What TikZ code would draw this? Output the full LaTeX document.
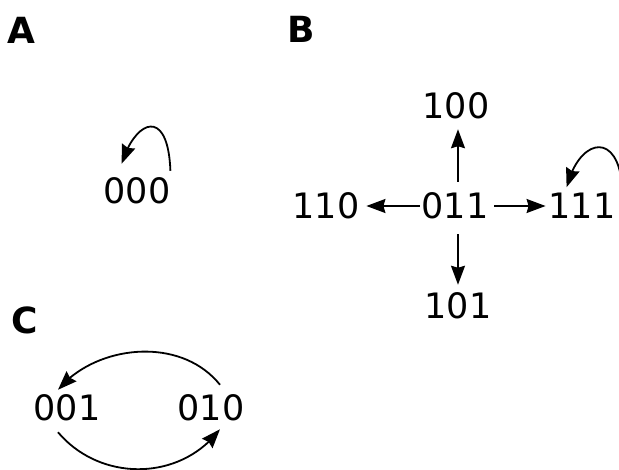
\documentclass[tikz,border=0pt]{standalone}
\usepackage{fontspec}
\setmainfont{DejaVu Sans}
\usetikzlibrary{arrows.meta,bending}
\begin{document}
\begin{tikzpicture}[x=1pt,y=-1pt,
  state/.style={inner sep=0pt,outer sep=0pt,font=\fontsize{35}{40}\selectfont},
  panel/.style={inner sep=0pt,font=\fontsize{36}{40}\selectfont\bfseries},
  conn/.style={line width=1.8pt,-{Stealth[length=19pt,width=14pt,inset=2pt]}}]
\useasboundingbox (0,0) rectangle (619,470);
% panel labels
\node[panel] (la) at (21,30) {A};
\node[panel] (lb) at (301,29) {B};
\node[panel] (lc) at (25,320) {C};
% A
\node[state] (s000) at (137,191) {000};
\draw[conn] ([shift={(0,-7)}]s000.north east) .. controls (168,106) and (135,120) .. ([shift={(18,-14)}]s000.north west);
% B
\node[state] (s011) at (455,206) {011};
\node[state] (s100) at (456,106) {100};
\node[state] (s110) at (326,206) {110};
\node[state] (s111) at (582,206) {111};
\node[state] (s101) at (458,306) {101};
\draw[conn,shorten <=11pt,shorten >=10pt] ([xshift=3pt]s011.north) -- ([xshift=2pt]s100.south);
\draw[conn,shorten <=15pt,shorten >=8pt] ([xshift=3pt]s011.south) -- (s101.north);
\draw[conn,shorten <=2pt,shorten >=7pt] (s011.west) -- (s110.east);
\draw[conn,shorten <=6pt,shorten >=3pt] (s011.east) -- (s111.west);
\draw[conn] ([shift={(7,2)}]s111.north east) .. controls (622,130) and (580,135) .. ([shift={(18,-6)}]s111.north west);
% C
\node[state] (s001) at (67,408) {001};
\node[state] (s010) at (211,408) {010};
\draw[conn] ([shift={(9,-10)}]s010.north) .. controls (180,335) and (95,345) .. ([shift={(-9,-5)}]s001.north);
\draw[conn] ([shift={(-9,11)}]s001.south) .. controls (100,482) and (180,482) .. ([shift={(9,8)}]s010.south);
\end{tikzpicture}
\end{document}
